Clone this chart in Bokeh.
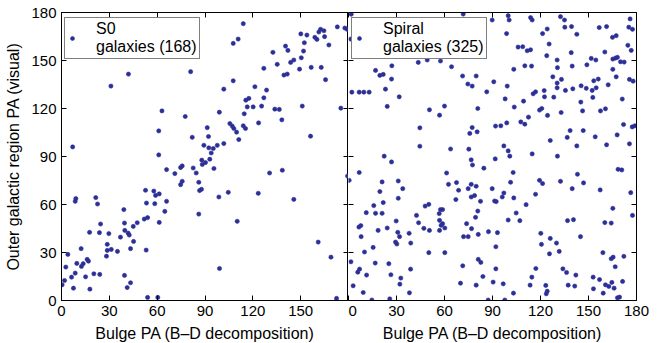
from bokeh.plotting import figure
from bokeh.layouts import row
from bokeh.models import LinearAxis, FixedTicker, Range1d, Legend, LegendItem, ColumnDataSource
from bokeh.embed import file_html
from bokeh.resources import INLINE

# ---------------- data ----------------
tick_values = [0, 30, 60, 90, 120, 150, 180]
x_label = "Bulge PA (B\u2013D decomposition)"
y_label = "Outer galactic region PA (visual)"
s0_label = "S0\ngalaxies (168)"
sp_label = "Spiral\ngalaxies (325)"

s0_bulge_pa = [
    7, 31, 42, 81, 63, 99, 61, 77.6, 82, 61,
    91.4, 92.2, 89.3, 92.4, 95.2, 97.7, 93.9, 93, 88, 90.3,
    88.3, 75.7, 74.7, 65.9, 82.6, 95.6, 3.6, 114, 107.7, 110.8,
    107.7, 101.8, 101.8, 111.2, 109.8, 108.1, 107.1, 105.6, 114, 115.4,
    114.6, 116.5, 115.6, 117.5, 120.2, 121.3, 125.5, 126.9, 128.6, 126.9,
    123.6, 132.6, 135.3, 133.8, 136.6, 138.2, 139.5, 141.6, 140.5, 142,
    143.7, 145.7, 149.3, 150.4, 151.8, 152.3, 150.1, 153.9, 156.6, 151,
    156.2, 158.9, 160.2, 161.4, 162.5, 164.6, 165, 167.7, 162.9, 165.6,
    173, 177.7, 179.2, 175.2,
    0.4, 1.9, 2.7, 4, 6.3, 7.5, 8.6, 9.6, 8.6, 9,
    12.3, 12.5, 13.6, 15.1, 16.1, 16.9, 17.8, 17.6, 20.3, 21.5,
    22.6, 23.8, 24.5, 24, 28.2, 28.7, 28.7, 29.7, 31.2, 35.1,
    37, 39.1, 39.5, 39.7, 39.5, 41.2, 41.8, 42.5, 43.3, 43.3,
    45, 45.2, 47.5, 51.9, 54, 52.7, 53.3, 53.1, 54, 57.9,
    59, 61.3, 58.5, 61.3, 60.4, 64.8, 65.9, 71.1, 74.7, 75.7,
    84.5, 86.1, 86.6, 87.8, 86.1, 98.7, 99.1,
    104.6, 110.2, 123.4, 130.5, 138.5, 145.7, 161, 169, 172.5, 179.4,
]
s0_outer_pa = [
    96, 134, 141.5, 143, 118.5, 117.7, 106, 115, 102, 91,
    108, 102.5, 97, 95.4, 95, 97, 92.2, 88.3, 87.7, 86.2,
    85, 84.1, 83.1, 81.8, 82.8, 82.5, 153.4, 173, 160.7, 163.4,
    137.3, 132.1, 98.1, 100.6, 105.2, 107.5, 109, 110.6, 109.2, 107.5,
    116.7, 121, 125.2, 126.3, 121, 133.6, 121.5, 126.7, 131.5, 145.1,
    111, 155.1, 147.6, 119.6, 119.4, 112.9, 140.9, 141.5, 159, 156.3,
    148.8, 150.3, 144.6, 151.7, 155.9, 161.1, 166.6, 165.9, 145.7, 121.5,
    102.7, 164.5, 163.2, 167.8, 169.5, 168.6, 164.9, 159.7, 145.7, 138,
    171, 170.3, 169.5, 120.2,
    9.8, 12.5, 20.9, 28.8, 14.6, 7.7, 17.1, 23.2, 62, 63.7,
    32.4, 21.3, 23, 14.8, 25.7, 24.6, 7.1, 42.6, 16.7, 64.3,
    60.3, 42.4, 47.8, 16.3, 27.7, 35.1, 31.3, 41.8, 31.9, 30.7,
    39.6, 56.8, 48.4, 43.8, 15.7, 8.1, 42.1, 40.9, 32.4, 11.1,
    46.3, 36.9, 48.6, 50.9, 51.8, 68.9, 60.9, 31.5, 1.9, 68.4,
    65.7, 66.6, 60.5, 48.8, 1.9, 55.7, 62, 79.3, 72.4, 74.5,
    79.7, 73.9, 68.7, 69.5, 54, 64.7, 20,
    67.6, 49.5, 67, 79.7, 81.4, 63.2, 36.5, 27.1, 1.3, 77.8,
]

sp_bulge_pa = [
    1.7, 1.4, 2.1, 6.7, 9.6, 12.9, 16.9, 19.6, 21.7, 27.1,
    26.9, 23.1, 31.7, 24.2, 22.3, 26.9, 43.6, 44.6, 44.6,
    6.7, 0.4, 21, 19.6, 21.7, 15.8, 11.1, 16.9, 21, 31.1,
    33.9, 31.1, 42.5, 43.8, 29.8, 6.5, 7.7, 7.9, 18.5, 24.2,
    30.8, 31.9, 37.9, 29.4, 30.2, 38.9, 15.4, 10, 1.5, 16.7,
    25.2, 6.9, 5.8, 11.3, 26.5, 38.8, 32.7, 32.1, 2.9, 9.2,
    38.1, 14.6, 25.8,
    71.7, 89.8, 99.8, 100.4, 113.8, 114.8, 132.5, 135, 135.2, 139.4,
    124.2, 121.3, 98.8, 142.7, 156.7, 161.3, 176, 175.2, 177.5, 165,
    167.3, 174.6, 176.7, 160.2, 139.2, 125.4, 106, 108.9, 111.7, 113.8,
    123.9, 130.4, 130.6, 139.8, 149, 151.7, 154.6, 165.2, 166.9, 168.1,
    170, 172.3, 165.2, 167.3, 175.6, 177.9, 162.3, 156.1, 153.3, 154.8,
    152.3, 148.6, 145.4, 152.7, 145.2, 146.3, 157.5, 160.6, 171.1, 140.2,
    135.6, 133.1, 130.4, 130.4, 127.7, 128.3, 122.3, 122.5, 116.9, 115.4,
    110.2, 114.4, 103.3, 90.8, 99.2, 86.4, 97.9, 109.4, 103.6, 120.8,
    119.4, 124.4, 132.9, 112.5, 107.7, 110.2, 98.9, 95.2, 91.9, 80.8,
    79.8, 77.3, 74.6, 71.3, 64.4, 57.5, 49.2, 71.7, 60, 56.9,
    50.6, 77.3, 75.8, 80.4, 63.8, 75.2, 97.1, 99.8, 100.8, 91.7,
    76.7, 77.5, 84.6, 114.8, 126.1, 130.6, 138.5, 136.7, 142.7, 146.7,
    154.2, 161.3, 167.9, 171.9, 177.3, 179, 175.6, 168.5, 170.8,
    61.3, 62.5, 67.5, 68.8, 67.1, 74.8, 76.7, 79.8, 76.7, 78.8,
    82.5, 80.8, 79.4, 73.8, 76.9, 81.1, 71.9, 74.8, 89.8, 91.3,
    92.3, 96.1, 97.1, 101.3, 102.9, 103.3, 111, 116.9, 119.4, 121.3,
    132.5, 139.8, 143.1, 146.9, 157.3, 176.4, 104.8, 107.1, 99.8, 87.5,
    93.1, 92.1, 81.1, 82.7, 71.4, 84, 70, 79.8, 90.4, 96.7,
    92.1, 87.3, 97.7, 103.1, 113.5, 114.6, 117.1, 120.2, 120.6, 126.1,
    125.6, 130, 131.7, 123.3, 124.2, 123.6, 134, 136.3, 142.1, 137.3,
    141.4, 136.9, 140.6, 145, 152.9, 156.9, 153.1, 159.2, 160.6, 162.7,
    164.6, 166, 171.3, 166.7, 164.2, 165.4, 172.1, 159, 160.2, 164.2,
    165.2, 177.5, 168.1, 169.4, 50.2, 47.9, 47.1, 50.6, 50.2, 57.5,
    56.7, 58.8, 56.9, 57.9, 58.8, 56.9, 60.2, 60.2,
]
sp_outer_pa = [
    178.9, 163.4, 130.2, 130.2, 130.2, 130.2, 143.8, 140.7, 141.3, 146.7,
    138.4, 132.1, 127.3, 121.3, 90.2, 86.6, 148.8, 107.9, 96.4,
    80, 75.1, 74.1, 68.1, 61.2, 59.3, 54.9, 54.5, 54.5, 74.7,
    69.9, 63.9, 53.2, 48.6, 49.7, 45.9, 46.8, 39.9, 43.8, 45.3,
    42.6, 39.9, 42, 36.5, 35.3, 35.9, 33.2, 30.3, 24.2, 23.4,
    23, 19.6, 17.7, 15.9, 16.1, 19.6, 14, 10.2, 9.2, 5,
    4.8, 0.3, 1,
    179, 175.3, 178, 175.3, 176.8, 175.3, 177.4, 175.3, 170.8, 171.2,
    169.7, 166.8, 166.8, 166.4, 170.6, 171.2, 176, 170.8, 169.5, 164.5,
    165.5, 159.5, 156.3, 155.3, 154.9, 160.3, 158.4, 158.6, 156.1, 156.7,
    153, 150.3, 145.5, 146.5, 147.3, 151.3, 150.3, 150.9, 151.5, 152,
    149.2, 149, 144.5, 139.8, 138.2, 137.1, 134.8, 138.4, 137.3, 132.9,
    131.3, 132.6, 134.2, 126.9, 124, 118.5, 118.5, 119.8, 125.9, 132.3,
    131.3, 138.2, 135.9, 132.9, 139.8, 127.1, 131.2, 127.3, 130.4, 129.2,
    146.7, 146.5, 144.5, 136.7, 134, 130.4, 126, 124.6, 120.9, 120,
    119, 115.7, 117.5, 114.6, 111.6, 110.2, 111, 109.2, 109, 120,
    140.3, 134, 135.3, 140.3, 146.1, 149.7, 150.3, 152.4, 121.5, 115.8,
    119.2, 108.1, 104.4, 105.4, 94.7, 94.6, 96.6, 93.5, 90.2, 88.5,
    87.9, 84.7, 82.7, 91.6, 100, 90.2, 106.2, 101.9, 96.6, 106.2,
    102.3, 97.3, 103.5, 110, 108.5, 109.2, 97.9, 82, 81.6,
    79.7, 72.6, 73.7, 68.9, 63.1, 69.9, 72.6, 71.4, 64.7, 65.6,
    62, 55.9, 52, 48, 44.9, 41.3, 39.9, 39.9, 69.9, 62.2,
    61.8, 64.7, 67.2, 73.9, 80, 64.1, 59.9, 66.4, 75.1, 73.1,
    74.5, 69.9, 78.9, 73.5, 69.1, 67.4, 54.7, 49.9, 50.3, 43,
    42.4, 33.6, 25.7, 23.8, 21.7, 15, 10.8, 9.6, 11.5, 10.4,
    19.8, 0.3, 0.3, 4.6, 9.6, 14.6, 20, 42, 35.1, 38.8,
    29.2, 35.9, 30.7, 9.4, 5.8, 4.2, 19.8, 17.5, 15.9, 9.6,
    9, 49.9, 50.5, 39.9, 14.6, 13.1, 7.3, 4.6, 9.8, 8.8,
    11.3, 7.7, 11.9, 21.1, 26.1, 27.1, 27.6, 29.9, 48.7, 48.4,
    57.6, 53.2, 1.7, 2.1, 60.1, 59, 45.1, 43.8, 29.9, 56.8,
    54.3, 56.8, 50.1, 47, 48, 43.8, 45.3, 29.9,
]

# ---------------- styling ----------------
FONT = "Liberation Sans"
DOT = "#2b2f96"


def style_axis(ax, show_labels, label=None, overrides=None):
    ax.ticker = FixedTicker(ticks=tick_values)
    ax.minor_tick_line_color = None
    ax.major_tick_in = 5
    ax.major_tick_out = 0
    ax.major_tick_line_color = "black"
    ax.axis_line_color = "black"
    ax.major_label_text_font = FONT
    if show_labels:
        ax.major_label_text_color = "black"
        ax.major_label_text_font_size = "15px"
        ax.major_label_standoff = 5
    else:
        ax.major_label_text_color = None
        ax.major_label_text_font_size = "0px"
        ax.major_label_standoff = 0
    if overrides:
        ax.major_label_overrides = overrides
    if label:
        ax.axis_label = label
        ax.axis_label_text_font = FONT
        ax.axis_label_text_font_size = "16px"
        ax.axis_label_text_font_style = "normal"
        ax.axis_label_text_color = "black"
        ax.axis_label_standoff = 6


def make_panel(xs, ys, legend_label, first):
    p = figure(
        frame_width=287 if first else 288,
        frame_height=288,
        x_range=Range1d(0, 180),
        y_range=Range1d(0, 180),
        output_backend="svg",
        toolbar_location=None,
        min_border_left=61 if first else 0,
        min_border_right=0 if first else 27,
        min_border_top=12,
        min_border_bottom=43,
        background_fill_color="white",
        border_fill_color="white",
    )
    p.grid.visible = False
    p.outline_line_color = "black" if first else None

    src = ColumnDataSource(dict(x=xs, y=ys))
    r = p.scatter("x", "y", source=src, size=4.2, marker="circle",
                  fill_color=DOT, line_color=DOT, line_width=0.6)

    style_axis(p.xaxis[0], True, x_label, {180: ""} if first else None)
    style_axis(p.yaxis[0], first, y_label if first else None)
    if not first:
        p.yaxis[0].axis_line_color = None

    top = LinearAxis()
    style_axis(top, False)
    p.add_layout(top, "above")
    right = LinearAxis()
    style_axis(right, False)
    p.add_layout(right, "right")

    leg = Legend(
        items=[LegendItem(label=legend_label, renderers=[r])],
        location=(3, 241),
        margin=0,
        padding=2,
        spacing=0,
        glyph_width=10,
        glyph_height=34,
        label_standoff=19,
        border_line_color="black",
        border_line_width=1,
        background_fill_color="white",
        background_fill_alpha=1,
        label_text_font=FONT,
        label_text_font_size="16px",
        label_text_color="black",
    )
    p.add_layout(leg)
    return p


p1 = make_panel(s0_bulge_pa, s0_outer_pa, s0_label, True)
p2 = make_panel(sp_bulge_pa, sp_outer_pa, sp_label, False)

layout = row(p1, p2, spacing=0)
open("out.html", "w").write(file_html(layout, INLINE))
